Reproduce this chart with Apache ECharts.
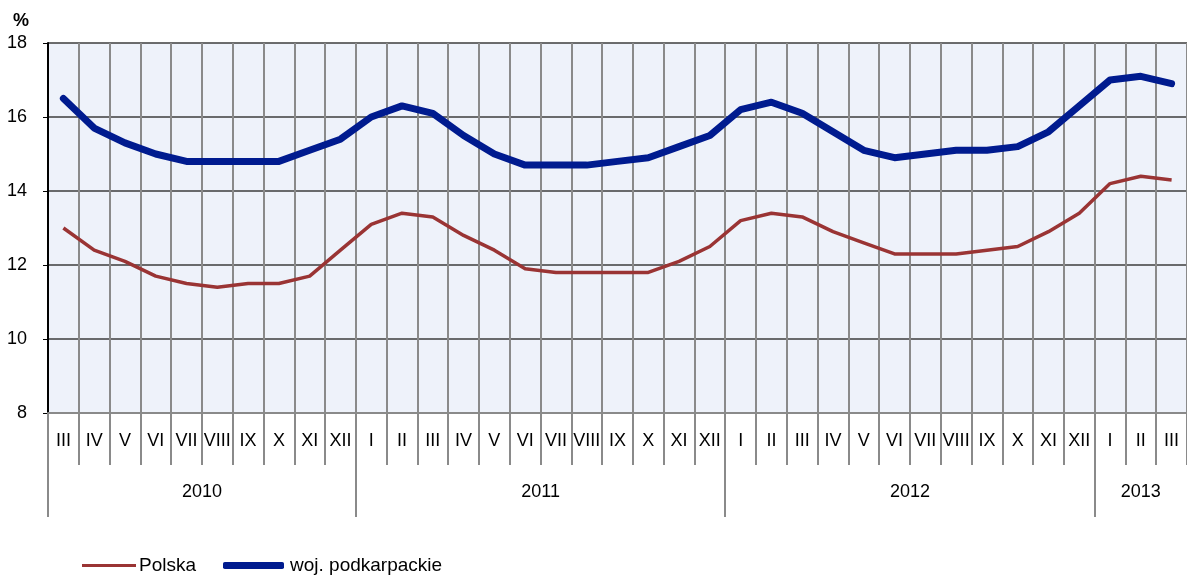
<!DOCTYPE html>
<html>
<head>
<meta charset="utf-8">
<script src="https://cdn.jsdelivr.net/npm/echarts@6/dist/echarts.min.js"></script>
<style>
html,body{margin:0;padding:0;background:#fff;}
#chart{width:1187px;height:575px;}
</style>
</head>
<body>
<div id="chart"></div>
<script>
const months = ['III','IV','V','VI','VII','VIII','IX','X','XI','XII',
  'I','II','III','IV','V','VI','VII','VIII','IX','X','XI','XII',
  'I','II','III','IV','V','VI','VII','VIII','IX','X','XI','XII',
  'I','II','III'];
const years = ['2010','2011','2012','2013'];
const yearLabelPos = [5, 16, 28, 35.5];
const yearBounds = [0, 10, 22, 34];
const polska = [13.0,12.4,12.1,11.7,11.5,11.4,11.5,11.5,11.7,12.4,
  13.1,13.4,13.3,12.8,12.4,11.9,11.8,11.8,11.8,11.8,12.1,12.5,
  13.2,13.4,13.3,12.9,12.6,12.3,12.3,12.3,12.4,12.5,12.9,13.4,
  14.2,14.4,14.3];
const podkarpackie = [16.5,15.7,15.3,15.0,14.8,14.8,14.8,14.8,15.1,15.4,
  16.0,16.3,16.1,15.5,15.0,14.7,14.7,14.7,14.8,14.9,15.2,15.5,
  16.2,16.4,16.1,15.6,15.1,14.9,15.0,15.1,15.1,15.2,15.6,16.3,
  17.0,17.1,16.9];
const yTicks = [8,10,12,14,16,18];

const font = 'Liberation Sans, Arial, sans-serif';
const chart = echarts.init(document.getElementById('chart'), null, {renderer:'canvas'});
chart.setOption({
  animation: false,
  backgroundColor: '#ffffff',
  textStyle: {fontFamily: font},
  grid: {left: 48, top: 43, width: 1140, bottom: 162, show: true,
         backgroundColor: '#eef2fa', borderWidth: 0},
  legend: [
    {left: 82, top: 556, padding: 0, itemWidth: 54, itemHeight: 3, icon: 'rect',
     textStyle: {fontSize: 19, color: '#000', fontFamily: font, padding: [0,0,0,-2]},
     data: [{name: 'Polska', itemStyle: {color: '#9a3434'}}]},
    {left: 223, top: 556, padding: 0, itemWidth: 61, itemHeight: 7, icon: 'roundRect',
     textStyle: {fontSize: 19, color: '#000', fontFamily: font, padding: [0,0,0,1]},
     data: [{name: 'woj. podkarpackie', itemStyle: {color: '#001b8f'}}]}
  ],
  xAxis: [
    {type: 'category', data: months, boundaryGap: true, position: 'bottom',
     axisLine: {show: true, lineStyle: {color: '#8a8a8a', width: 2}},
     axisTick: {show: true, interval: 0, length: 52, lineStyle: {color: '#8a8a8a', width: 2}},
     axisLabel: {interval: 0, margin: 19, fontSize: 18, color: '#000', fontFamily: font},
     splitLine: {show: true, interval: 0, lineStyle: {color: '#8a8a8a', width: 2}}},
    {type: 'value', min: 0, max: 37, position: 'bottom', offset: 0,
     axisLine: {show: false},
     axisTick: {show: true, customValues: yearBounds, length: 104, lineStyle: {color: '#8a8a8a', width: 2}},
     axisLabel: {show: true, customValues: yearLabelPos, margin: 70, fontSize: 18, color: '#000', fontFamily: font,
       formatter: function(v){ const i = yearLabelPos.indexOf(v); return i >= 0 ? years[i] : ''; }},
     splitLine: {show: false}}
  ],
  yAxis: {
    type: 'value', min: yTicks[0], max: yTicks[yTicks.length-1], interval: 2,
    name: '%', nameLocation: 'end', nameGap: 13,
    nameTextStyle: {fontSize: 18, fontWeight: 'bold', color: '#000', align: 'right', padding: [0, 19, 0, 0], fontFamily: font},
    axisLine: {show: true, lineStyle: {color: '#000', width: 2}},
    axisTick: {show: true, length: 5, lineStyle: {color: '#000', width: 1}},
    axisLabel: {margin: 21, fontSize: 18, color: '#000', fontFamily: font},
    splitLine: {show: true, lineStyle: {color: '#3c3c3c', width: 1.5}}
  },
  series: [
    {name: 'Polska', type: 'line', data: polska, xAxisIndex: 0, showSymbol: false, symbol: 'none',
     lineStyle: {color: '#9a3434', width: 3.5, join: 'round'}, itemStyle: {color: '#9a3434'}, z: 3},
    {name: 'woj. podkarpackie', type: 'line', data: podkarpackie, xAxisIndex: 0, showSymbol: false, symbol: 'none',
     lineStyle: {color: '#001b8f', width: 7, join: 'round', cap: 'round'}, itemStyle: {color: '#001b8f'}, z: 4}
  ]
});
</script>
</body>
</html>
